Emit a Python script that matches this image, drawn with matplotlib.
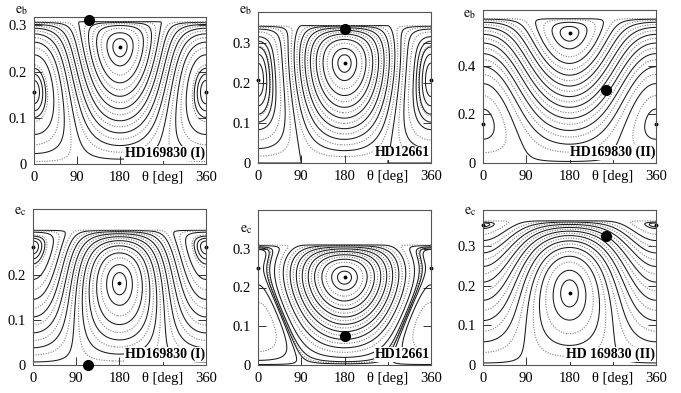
import numpy as np
import matplotlib
matplotlib.use("Agg")
import matplotlib.pyplot as plt

plt.rcParams['font.family'] = ['Liberation Serif', 'DejaVu Serif']
plt.rcParams['mathtext.fontset'] = 'stix'

# ---- data ----
panel_names = ['HD169830 (I)', 'HD12661', 'HD169830 (II)',
               'HD169830 (I)', 'HD12661', 'HD 169830 (II)']
ecc_sub = ['b', 'b', 'b', 'c', 'c', 'c']
emax_vals = [0.308, 0.344, 0.595, 0.300, 0.310, 0.365]        # edge of allowed region
center180_e = [0.253, 0.250, 0.535, 0.182, 0.226, 0.183]      # libration centre at theta=180
center0_e = [0.156, 0.208, 0.160, 0.263, 0.251, 0.355]        # libration centre at theta=0/360
dot_theta = [115, 181, 255, 115, 180, 256]
dot_e = [0.312, 0.336, 0.302, 0.0, 0.075, 0.325]
ylim_top = [0.318, 0.378, 0.63, 0.347, 0.40, 0.392]
ytick_vals = [[0, 0.1, 0.2, 0.3], [0, 0.1, 0.2, 0.3], [0, 0.2, 0.4],
              [0, 0.1, 0.2], [0, 0.1, 0.2, 0.3], [0, 0.1, 0.2, 0.3]]
xtick_vals = [0, 90, 180, 270, 360]
xtick_labels = ['0', '90', '180', 'θ [deg]', '360']
n_levels = 20
# relative depth of the closed loops drawn round the theta=0 centre
corner_fracs = [[0.02, 0.05, 0.09], [0.02, 0.05, 0.09, 0.14], [0.08],
                [0.02, 0.05, 0.09], [0.02, 0.05, 0.09], [0.03, 0.08]]

# axes boxes in pixels: left, right, top, bottom
boxes = [(34, 206, 17, 164), (258, 431, 12, 163), (483, 656, 10, 163),
         (33, 206, 209, 365), (258, 431, 210, 365), (483, 656, 210, 365)]
elabel_pos = [(21, 11), (245, 11), (469, 15), (20, 211), (246, 229), (470, 211)]

W, Hh = 681, 393
fig = plt.figure(figsize=(W / 100, Hh / 100), dpi=100)


def gfun(u):
    return u * np.sqrt(np.clip(1 - u ** 2, 0, None))


def gder(u):
    return (1 - 2 * u ** 2) / np.sqrt(1 - u ** 2)


def coeffs(u1, u0):
    # f(u) = a u^2 + b u^4 ; f'(u1) = g'(u1) (theta=180), f'(u0) = -g'(u0) (theta=0)
    M = np.array([[2 * u1, 4 * u1 ** 3], [2 * u0, 4 * u0 ** 3]])
    rhs = np.array([gder(u1), -gder(u0)])
    return np.linalg.solve(M, rhs)


def ham(th, u, a, bb):
    return a * u ** 2 + bb * u ** 4 + gfun(u) * np.cos(np.radians(th))


for i in range(6):
    l, r, t, b = boxes[i]
    ax = fig.add_axes([l / W, 1 - b / Hh, (r - l) / W, (b - t) / Hh])
    emax = emax_vals[i]
    u1 = center180_e[i] / emax
    u0 = center0_e[i] / emax
    a, bb = coeffs(u1, u0)
    th = np.linspace(0, 360, 721)
    ee = np.linspace(0, emax, 400)
    TH, EE = np.meshgrid(th, ee)
    U = EE / emax
    Hf = ham(TH, U, a, bb)
    hmin, hmax = Hf.min(), Hf.max()
    levels = np.linspace(hmin, hmax, n_levels + 2)[1:-1]
    d = (hmax - hmin) / (n_levels + 1)

    # innermost loop round the theta=180 centre
    hc = ham(180, u1, a, bb)
    sgn = np.sign(ham(205, u1, a, bb) - hc)
    extra = [hc + sgn * d * 0.3]
    # loops round the theta=0 centre
    h0 = ham(0, u0, a, bb)
    span = ham(90, u0, a, bb) - h0
    for fr in corner_fracs[i]:
        extra.append(h0 + span * fr)

    solid = levels[::2]
    dotted = levels[1::2]
    ax.contour(TH, EE, Hf, levels=solid, colors='#1a1a1a', linewidths=0.75,
               linestyles='solid')
    ax.contour(TH, EE, Hf, levels=dotted, colors='#808080', linewidths=0.8,
               linestyles=[(0, (1, 1.3))])
    ax.contour(TH, EE, Hf, levels=sorted(extra), colors='#1a1a1a',
               linewidths=0.75, linestyles='solid')
    # centres
    ax.plot([180], [center180_e[i]], 'o', color='k', ms=1.8)
    ax.plot([0, 360], [center0_e[i]] * 2, 'o', color='k', ms=1.8, clip_on=False)
    # observed system
    ax.plot([dot_theta[i]], [dot_e[i]], 'o', color='k', ms=7, clip_on=False, zorder=5)

    ax.set_xlim(0, 360)
    ax.set_ylim(0, ylim_top[i])
    ax.set_xticks(xtick_vals)
    ax.set_xticklabels(xtick_labels, fontsize=10.5)
    ax.set_yticks(ytick_vals[i])
    ax.set_yticklabels(['0' if v == 0 else f'{v:.1f}' for v in ytick_vals[i]],
                       fontsize=10.5)
    ax.tick_params(direction='in', length=6, width=0.7, left=True, right=True,
                   top=False, bottom=True, pad=5, colors='#333333',
                   labelcolor='black')
    for s in ax.spines.values():
        s.set_color('#555555')
        s.set_linewidth(0.8)
    ax.text(0.995, 0.025, panel_names[i], transform=ax.transAxes, ha='right',
            va='bottom', fontsize=10, fontweight='bold',
            bbox=dict(facecolor='white', edgecolor='none', pad=0.5), zorder=6)
    x, y = elabel_pos[i]
    fig.text(x / W, 1 - y / Hh, r'$\mathrm{e}_\mathrm{' + ecc_sub[i] + '}$',
             ha='center', va='center', fontsize=10)

fig.savefig('out.png', dpi=100)
